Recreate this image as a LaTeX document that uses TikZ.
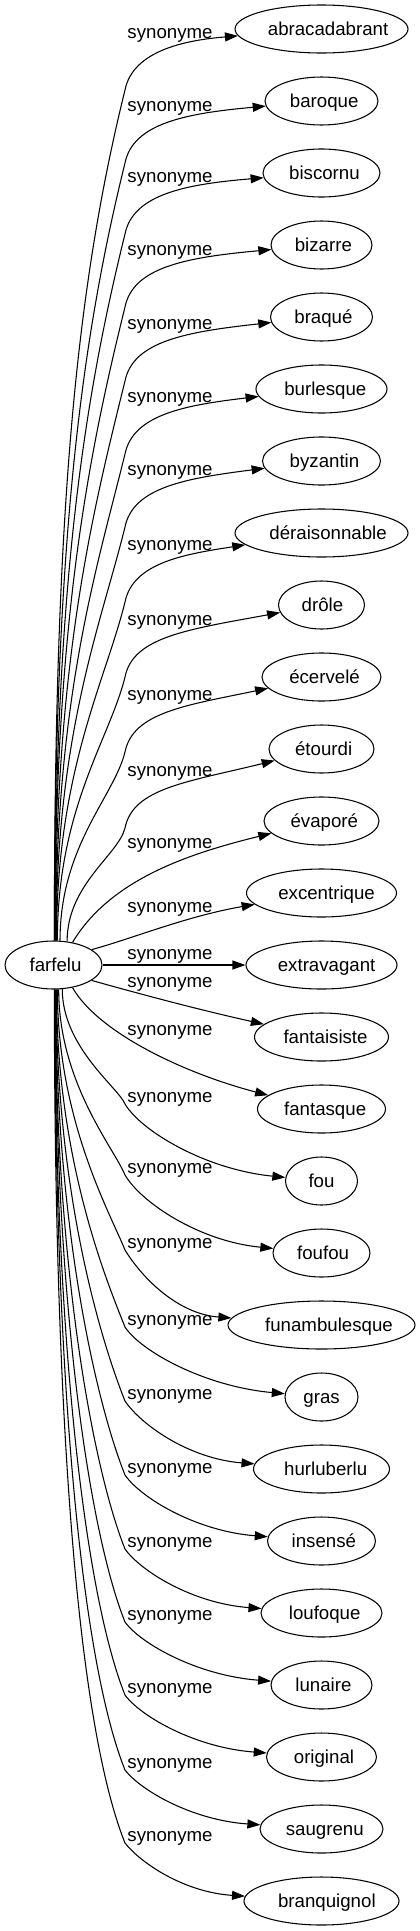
\documentclass[tikz,border=0pt]{standalone}
\usepackage{fontspec}
\setmainfont{Liberation Sans}
\usetikzlibrary{arrows.meta,shapes.geometric,calc}
\begin{document}
\begin{tikzpicture}[x=0.75pt,y=-0.75pt,
  nd/.style={ellipse,draw,line width=0.8pt,minimum height=36pt,inner sep=0pt,
    text height=9.5pt,text depth=0.5pt,font=\fontsize{14pt}{16pt}\selectfont},
  lbl/.style={anchor=base,inner sep=0pt,font=\fontsize{14pt}{16pt}\selectfont},
  syn/.style={-{Triangle[length=9.75pt,width=6.75pt]},line width=0.8pt}]
\useasboundingbox (0,0) rectangle (420,1931);

% central node
\node[nd,minimum width=72.75pt] (f) at (53.5,965) {\makebox[0pt]{\hspace*{3pt}farfelu}};

% synonym nodes
\foreach \idx/\Y/\w/\word in {
1/29/173/abracadabrant,
2/101/113/baroque,
3/173/117/biscornu,
4/245/101/bizarre,
5/317/102/braqué,
6/389/131/burlesque,
7/461/118/byzantin,
8/533/173/déraisonnable,
9/605/86/drôle,
10/677/119/écervelé,
11/749/105/étourdi,
12/821/115/évaporé,
13/893/150/excentrique,
14/965/151/extravagant,
15/1037/134/fantaisiste,
16/1109/128/fantasque,
17/1181/72/fou,
18/1253/97/foufou,
19/1325/187/funambulesque,
20/1397/73/gras,
21/1469/136/hurluberlu,
22/1541/108/insensé,
23/1613/121/loufoque,
24/1685/101/lunaire,
25/1757/110/original,
26/1829/123/saugrenu,
27/1901/155/branquignol}
{\pgfmathsetmacro\mw{\w*0.75}\pgfmathsetmacro\sh{0.13*(\w-72)*0.75}
 \node[nd,minimum width=\mw pt] (n\idx) at (321.5,\Y) {\makebox[0pt]{\hspace*{\sh pt}\word}};}

% edge labels
\foreach \idx/\ly in {1/33,2/106,3/177,4/250,5/324,6/397,7/470,8/545,9/620,10/695,11/771,12/843,13/907,14/954,15/982,16/1030,17/1097,18/1168,19/1243,20/1320,21/1394,22/1468,23/1542,24/1615,25/1688,26/1763,27/1836}
{\node[lbl] (s\idx) at (170,\ly+5) {synonyme};}

% upper edges
\foreach \idx/\Y/\ly/\ang in {1/29/33/88,2/101/106/88,3/173/177/87,4/245/250/87,5/317/324/86,6/389/397/85,7/461/470/84,8/533/545/83,9/605/620/81,10/677/695/75,11/749/771/60}
{
 \pgfmathsetmacro\Ky{\ly+57}
 \pgfmathsetmacro\hh{(942-\Ky)/2}
 \pgfmathsetmacro\lenA{0.235*(942-\Ky)}
 \pgfmathsetmacro\Cbx{125-0.247*\lenA}
 \pgfmathsetmacro\Cby{\Ky+\lenA}
 \pgfmathsetmacro\Ccy{\Ky-40}
 \pgfmathsetmacro\Cdy{\ly+5+25*(\ly+5-\Y)/109.5}
 \draw[syn] (f.\ang) .. controls ($(f.\ang)+(0,-\hh)$) and (\Cbx,\Cby) .. (125,\Ky)
   .. controls (133,\Ccy) and (187,\Cdy) .. (n\idx);
}

% middle edges
\draw[syn] (f.50) .. controls (110,880) and (187,854) .. (n12);
\draw[syn] (f.22) .. controls (131,939) and (187,916) .. (n13);
\draw[syn] (f) -- (n14);
\draw[syn] (f.338) .. controls (140,994) and (200,1010) .. (n15);
\draw[syn] (f.310) .. controls (100,1035) and (190,1075) .. (n16);

% lower edges
\foreach \idx/\Y/\ly/\ang/\w in {17/1181/1097/290/72,18/1253/1168/282/97,19/1325/1243/279/187,20/1397/1320/277/73,21/1469/1394/276/136,22/1541/1468/275/108,23/1613/1542/274/121,24/1685/1615/274/101,25/1757/1688/273/110,26/1829/1763/273/123,27/1901/1836/272/155}
{
 \pgfmathsetmacro\Ky{\ly+7}
 \pgfmathsetmacro\hh{(\Ky-988)/2}
 \pgfmathsetmacro\lenA{0.14*(\Ky-988)}
 \pgfmathsetmacro\Cbx{125-0.4*\lenA}
 \pgfmathsetmacro\Cby{\Ky-\lenA}
 \pgfmathsetmacro\DD{\Y-\Ky}
 \pgfmathsetmacro\Ccy{\Ky+0.35*\DD}
 \pgfmathsetmacro\Cdx{125+0.5*(321.5-\w/2-125)}
 \pgfmathsetmacro\Cdy{\Y-0.15*\DD}
 \draw[syn] (f.\ang) .. controls ($(f.\ang)+(0,\hh)$) and (\Cbx,\Cby) .. (125,\Ky)
   .. controls (141,\Ccy) and (\Cdx,\Cdy) .. (n\idx);
}
\end{tikzpicture}
\end{document}
